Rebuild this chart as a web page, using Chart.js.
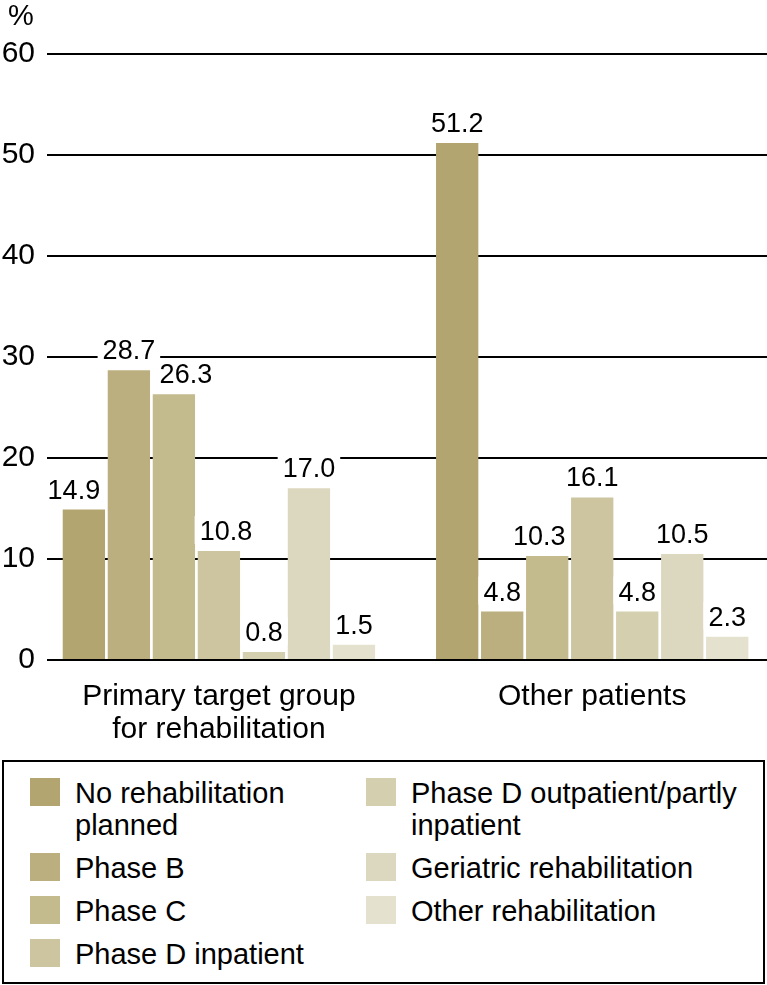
<!DOCTYPE html>
<html>
<head>
<meta charset="utf-8">
<script src="https://cdn.jsdelivr.net/npm/chart.js@4.4.1/dist/chart.umd.min.js"></script>
<style>
  body { margin: 0; background: #fff; }
  #wrap { position: relative; width: 767px; height: 985px; }
  #chartBox { position: absolute; left: 0; top: 0; width: 767px; height: 745px; }
  #legend {
    position: absolute; left: 2px; top: 760px; width: 763px; height: 224px;
    box-sizing: border-box; border: 2px solid #000;
    font-family: "Liberation Sans", Arial, sans-serif;
    font-size: 29px; color: #000;
  }
  .col { position: absolute; top: 15px; }
  .item { display: flex; align-items: flex-start; line-height: 32px; margin-bottom: 11px; }
  .swatch { width: 30px; height: 28px; flex: none; margin-top: 1px; margin-right: 15px; }
</style>
</head>
<body>
<div id="wrap">
  <div id="chartBox"><canvas id="rehabChart"></canvas></div>
  <div id="legend"></div>
</div>
<script>
  const FONT = '"Liberation Sans", Arial, sans-serif';

  // groups on the x axis
  const categories = [
    ["Primary target group", "for rehabilitation"],
    "Other patients",
  ];
  // one bar per rehabilitation type in each group
  const seriesNames = [
    "No rehabilitation planned",
    "Phase B",
    "Phase C",
    "Phase D inpatient",
    "Phase D outpatient/partly inpatient",
    "Geriatric rehabilitation",
    "Other rehabilitation",
  ];
  const legendNames = [
    "No rehabilitation<br>planned",
    "Phase B",
    "Phase C",
    "Phase D inpatient",
    "Phase D outpatient/partly<br>inpatient",
    "Geriatric rehabilitation",
    "Other rehabilitation",
  ];
  const primaryValues = [14.9, 28.7, 26.3, 10.8, 0.8, 17.0, 1.5];
  const otherValues = [51.2, 4.8, 10.3, 16.1, 4.8, 10.5, 2.3];
  const yTicks = [0, 10, 20, 30, 40, 50, 60];

  const colors = ["#b3a56f", "#bbaf7f", "#c3ba8e", "#ccc59f", "#d4cfae", "#dcd7bf", "#e5e1cf"];
  // small sideways shifts of some value labels, as in the original
  const labelNudge = { "0-0": -10, "2-0": 12, "3-0": 7, "2-1": -8 };

  const datasets = seriesNames.map((name, i) => ({
    label: name,
    data: [
      { x: 0, y: primaryValues[i] },
      { x: 1, y: otherValues[i] },
    ],
    backgroundColor: colors[i],
    borderWidth: 0,
  }));

  // value labels with a white box that breaks the grid lines
  const valueLabels = {
    id: "valueLabels",
    afterDatasetsDraw(chart) {
      const ctx = chart.ctx;
      ctx.save();
      ctx.font = "27px " + FONT;
      ctx.textAlign = "center";
      ctx.textBaseline = "alphabetic";
      chart.data.datasets.forEach((ds, i) => {
        chart.getDatasetMeta(i).data.forEach((bar, j) => {
          const text = ds.data[j].y.toFixed(1);
          const x = bar.x + (labelNudge[i + "-" + j] || 0);
          const y = bar.y - 11;
          const w = ctx.measureText(text).width;
          ctx.fillStyle = "#fff";
          ctx.fillRect(x - w / 2 - 5, y - 24, w + 10, 28);
          ctx.fillStyle = "#000";
          ctx.fillText(text, x, y);
        });
      });
      // unit label
      ctx.font = "29px " + FONT;
      ctx.textAlign = "left";
      ctx.fillText("%", 8, 25);
      ctx.restore();
    },
  };

  const ctx = document.getElementById("rehabChart").getContext("2d");
  const chart = new Chart(ctx, {
    type: "bar",
    data: { datasets: datasets },
    options: {
      responsive: true,
      maintainAspectRatio: false,
      animation: false,
      layout: { padding: { top: 54, left: 0, right: 0, bottom: 0 } },
      datasets: {
        bar: { categoryPercentage: 0.844, barPercentage: 0.94 },
      },
      plugins: {
        legend: { display: false },
        tooltip: { enabled: false },
      },
      scales: {
        x: {
          type: "linear",
          offset: false,
          min: -0.4605,
          max: 1.4682,
          grid: { display: false },
          border: { display: false },
          afterBuildTicks: (scale) => {
            scale.ticks = categories.map((c, i) => ({ value: i }));
          },
          afterFit: (scale) => {
            scale.height = 85;
          },
          ticks: {
            padding: 12,
            color: "#000",
            maxRotation: 0,
            autoSkip: false,
            font: { family: FONT, size: 30, lineHeight: 1.1 },
            callback: (value) => categories[value],
          },
        },
        y: {
          min: 0,
          max: 60,
          afterBuildTicks: (scale) => {
            scale.ticks = yTicks.map((v) => ({ value: v }));
          },
          afterFit: (scale) => {
            scale.width = 47;
          },
          grid: { color: "#000", lineWidth: 2, drawTicks: false },
          border: { display: false },
          ticks: {
            padding: 12,
            color: "#000",
            font: { family: FONT, size: 30 },
          },
        },
      },
    },
    plugins: [valueLabels],
  });

  // legend in two columns, built from the chart's datasets
  const legendEl = document.getElementById("legend");
  const columns = [[0, 1, 2, 3], [4, 5, 6]];
  const colLeft = [26, 362];
  columns.forEach((idx, c) => {
    const col = document.createElement("div");
    col.className = "col";
    col.style.left = colLeft[c] + "px";
    idx.forEach((i) => {
      const ds = chart.data.datasets[i];
      const item = document.createElement("div");
      item.className = "item";
      item.innerHTML =
        '<span class="swatch" style="background:' + ds.backgroundColor + '"></span>' +
        "<span>" + legendNames[i] + "</span>";
      col.appendChild(item);
    });
    legendEl.appendChild(col);
  });
</script>
</body>
</html>
